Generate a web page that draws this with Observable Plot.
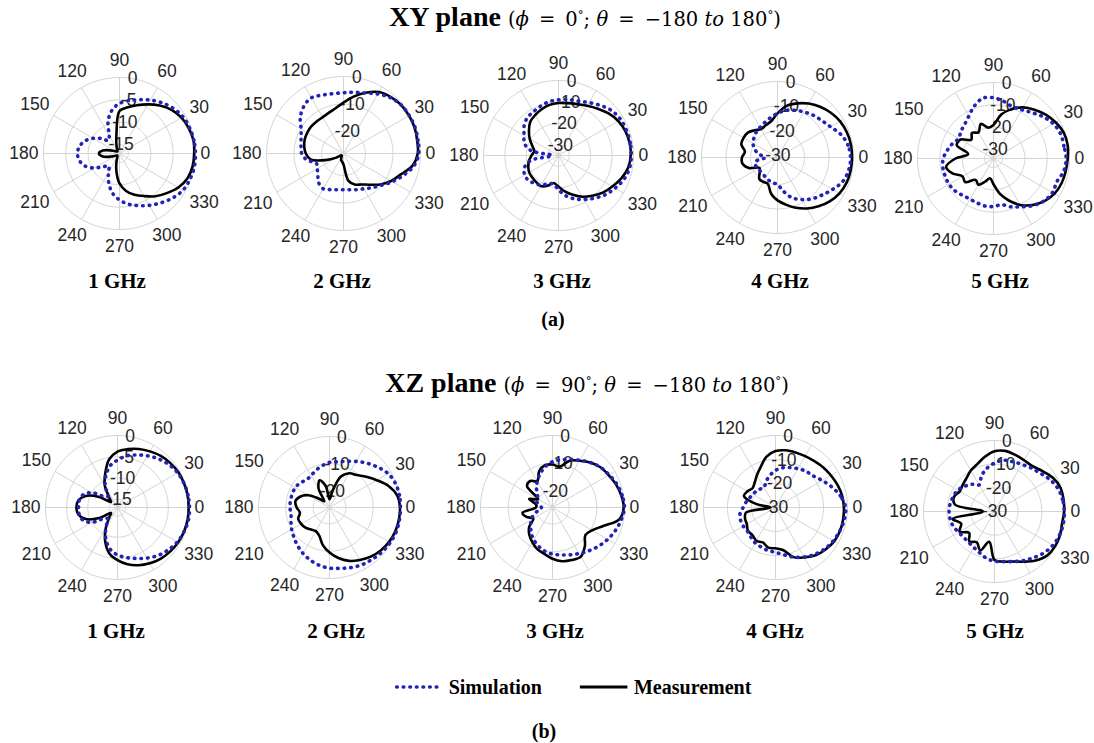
<!DOCTYPE html>
<html><head><meta charset="utf-8">
<script src="https://cdn.jsdelivr.net/npm/d3@7"></script>
<script src="https://cdn.jsdelivr.net/npm/@observablehq/plot@0.6"></script>
<style>
body{margin:0;background:#fff;}
#fig{position:relative;width:1094px;height:743px;overflow:hidden;font-family:"Liberation Serif","Times New Roman",serif;color:#000;}
.t{position:absolute;white-space:nowrap;transform:translate(-50%,-50%);line-height:1;}
.panel{position:absolute;}
.m{font-family:"DejaVu Serif",serif;font-weight:normal;font-size:19.5px;}
</style></head><body><div id="fig"></div>
<script>
// ---- data ----
const angles = [0,10,20,30,40,50,60,70,80,90,100,110,120,130,140,150,160,170,180,190,200,210,220,230,240,250,260,270,280,290,300,310,320,330,340,350];
const thetaTicks = [0,30,60,90,120,150,180,210,240,270,300,330];
const freqs = ["1 GHz","2 GHz","3 GHz","4 GHz","5 GHz"];
const xyRmin = [-17,-28,-35,-31,-34];
const xzRmin = [-17,-26,-26,-30,-30];
const xyTicks = [[0,-5,-10,-15],[0,-10,-20],[0,-10,-20,-30],[0,-10,-20,-30],[0,-10,-20,-30]];
const xzTicks = [[0,-5,-10,-15],[0,-10,-20],[0,-10,-20],[0,-10,-20,-30],[0,-10,-20,-30]];

const xy1Sim = [0,-0.1,-0.3,-0.6,-1.3,-2.2,-3.2,-4.2,-5.0,-5.8,-7.2,-9.5,-12.4,-13.2,-11.8,-10.2,-8.8,-7.9,-7.6,-7.9,-8.8,-10.5,-12.5,-13.3,-12.0,-10.0,-8.0,-6.6,-5.5,-4.6,-3.6,-2.6,-1.5,-0.6,-0.2,0];
const xy1Meas = [-0.3,-0.2,-0.5,-1.0,-1.8,-3.0,-4.3,-5.5,-6.5,-7.5,-13,-15,-16,-16.3,-16.3,-16,-15,-13.2,-12.4,-13.2,-15,-16,-16.3,-16.3,-16,-15,-13,-10.3,-8.5,-7.2,-6,-4.5,-3.2,-1.8,-0.8,-0.4];
const xy2Sim = [-0.6,-0.5,-0.3,-0.4,-0.6,-1.5,-3.0,-4.6,-5.4,-5.9,-5.9,-5.4,-4.6,-5.6,-7.5,-10.2,-11.6,-12.3,-12.8,-14.5,-17.5,-17,-15.8,-14,-13.2,-14,-14.6,-14.8,-14.6,-14,-13.2,-11.8,-10,-7.5,-4.8,-2.0];
const xy2Meas = [-1.0,-0.8,-0.5,-0.5,-0.6,-1.2,-2.2,-4.5,-7.0,-9.5,-11.3,-12.3,-12.8,-12.8,-12.7,-12.8,-13,-13.5,-14.3,-15.8,-21,-25,-27,-27,-26.5,-25.5,-25,-24,-18,-16,-15,-13.2,-10.5,-8,-5.8,-2.5];
const xy3Sim = [-1.0,-1.0,-1.2,-1.5,-2.5,-4.5,-6.5,-8.0,-8.5,-9.0,-9.5,-10.5,-11.5,-12.2,-14,-16.5,-18,-22,-32,-22,-18,-16.8,-16.8,-18,-19,-21,-21.5,-19,-16,-13.5,-11.3,-9,-6.5,-4.5,-2.5,-1.3];
const xy3Meas = [-1.3,-1.3,-1.8,-2.8,-4.5,-6.5,-8.2,-9.5,-10.2,-10.5,-11,-12,-13.2,-14.5,-17,-19.5,-22,-23.5,-22.4,-21,-20,-19.2,-19,-18.8,-18.5,-20,-22,-20.5,-18,-15.5,-12.8,-10.5,-8,-6,-3.8,-2];
const xy4Sim = [-1.2,-1.8,-3.5,-6,-7.5,-8.5,-9.5,-10.5,-11.5,-13,-14.5,-15.8,-16.8,-17.5,-18.5,-19.5,-21,-23.5,-26,-22,-21.5,-22,-22,-22,-21.5,-21,-20.5,-20,-17,-13.5,-11.2,-9,-7.2,-5,-2.6,-1.5];
const xy4Meas = [-0.6,-0.6,-0.9,-1.5,-2.6,-4,-5.6,-7.5,-9.6,-13,-16,-17,-17.6,-16.5,-15.2,-15,-15.3,-17.5,-16.5,-16.5,-18.5,-22.5,-21.5,-19.5,-19.5,-19.5,-16,-13.5,-11.5,-9.2,-7,-5,-3.2,-1.8,-1.0,-0.7];
const xy5Sim = [-1.5,-2,-2,-3,-5,-7.2,-8.8,-9.3,-8,-6.8,-6.6,-9,-12,-14,-15,-16,-14.5,-13,-11.5,-11,-11,-11,-11.5,-12.5,-13,-12.8,-12.4,-12.5,-13,-11,-9,-6.5,-4.5,-3.5,-3.8,-2];
const xy5Meas = [-0.8,-0.3,-0.5,-1.8,-3.5,-5.5,-7.6,-10.5,-14,-19,-20,-17.5,-20.5,-19,-21,-17,-16.5,-22.5,-17,-12.5,-14.5,-18,-17.5,-21.5,-20.5,-23,-25,-22.5,-18,-14,-10,-6.8,-4.3,-2.5,-1.6,-1.2];

const xz1Sim = [0,-0.1,-0.3,-0.6,-1.2,-2,-2.9,-3.8,-4.6,-5.8,-7,-9,-11.2,-13.5,-13,-10,-8.3,-7.8,-7.8,-7.8,-8.3,-10,-13,-13.5,-11.5,-9,-7,-5.8,-5,-4.2,-3.2,-2.2,-1.4,-0.7,-0.3,0];
const xz1Meas = [-0.2,-0.2,-0.3,-0.4,-0.7,-1.1,-1.7,-2.3,-3.0,-3.8,-5.5,-8.5,-11,-14,-15,-12,-9,-7.6,-7.3,-7.6,-9,-12,-15,-14,-11.5,-8.5,-6,-4.6,-3.4,-2.5,-1.8,-1.2,-0.8,-0.5,-0.3,-0.2];
const xz2Sim = [0,0,-0.3,-1.2,-3,-4.8,-6.5,-8,-9,-9.5,-10.5,-11.5,-12.5,-12.8,-12,-11.5,-11.5,-11.5,-11.5,-11.7,-11,-10,-9,-7.8,-6.6,-5.5,-4.5,-3.8,-3.4,-2.6,-1.9,-1.4,-0.8,-0.3,0,0];
const xz2Meas = [-0.2,-0.8,-3,-6,-8.5,-10.5,-11.5,-14,-20,-23,-18,-15.4,-18,-23,-21,-17,-14.5,-13.3,-14,-15,-13.8,-14,-14.5,-15.5,-16,-15,-12,-9.5,-7.2,-5.2,-3.8,-2.5,-1.5,-0.8,-0.4,-0.2];
const xz3Sim = [0,-0.5,-1.3,-2.4,-3.4,-4.8,-6.3,-7.5,-8.5,-9.5,-11,-13,-15,-17,-19,-19.5,-20,-21,-22,-21,-19,-17,-15.8,-14,-12.5,-11.2,-10,-9.2,-8.6,-7.8,-6.8,-5.6,-4.3,-3,-1.8,-0.8];
const xz3Meas = [-0.3,-0.8,-1.6,-2.6,-3.4,-4.8,-6.5,-8,-11,-10.5,-10.5,-12,-15,-13.5,-14,-20,-17,-20,-20,-15,-16,-18,-15,-13,-11.5,-10,-9,-7.5,-6.3,-5.8,-5.5,-7.8,-10.5,-9.5,-6.5,-1.5];
const xz4Sim = [-0.8,-2.5,-5,-7.5,-9.5,-10.3,-11.3,-12.3,-13.2,-14.5,-16.5,-18.5,-20.4,-20,-19.5,-19,-18.5,-17.5,-16.5,-15,-14.5,-14.5,-14.7,-14,-13,-12.5,-11.8,-11.3,-10,-8,-6.2,-4.5,-3.2,-2.2,-1.5,-0.9];
const xz4Meas = [-1.5,-1.8,-2.5,-3.3,-4,-4.8,-5.3,-5.6,-5.8,-6.5,-8.5,-12,-14.5,-16.5,-17.5,-16.5,-16,-22,-28,-17.5,-16.5,-16.2,-15,-15,-14,-14.5,-13,-13,-12,-8,-6,-4,-2.8,-1.8,-1.4,-1.4];
const xz5Sim = [-0.5,-0.8,-1.5,-3,-4.8,-6,-7,-7.6,-8,-9.5,-11.5,-14,-17,-15,-13.5,-12,-11.5,-11,-10.8,-11,-11.5,-12.5,-13,-13,-12.5,-11.5,-10,-9,-8.5,-7.5,-6,-4.5,-2.8,-1.5,-0.8,-0.5];
const xz5Meas = [-0.6,-0.4,-0.4,-1.5,-3.5,-5,-5,-4.5,-4,-4.5,-6.5,-8.7,-10,-11.6,-12.5,-13,-11.8,-13,-25,-12,-15,-13,-16,-13.5,-15,-12.5,-17,-9.5,-8.5,-7.5,-5.5,-3,-1,-0.5,-0.6,-1];

const xySim = [xy1Sim,xy2Sim,xy3Sim,xy4Sim,xy5Sim];
const xyMeas = [xy1Meas,xy2Meas,xy3Meas,xy4Meas,xy5Meas];
const xzSim = [xz1Sim,xz2Sim,xz3Sim,xz4Sim,xz5Sim];
const xzMeas = [xz1Meas,xz2Meas,xz3Meas,xz4Meas,xz5Meas];

// ---- layout ----
const row1 = {cx:[119,343,558,777,993], cy:[153,153,155,157,158], R:[76,77,75,76,76], labelX:[117,342,562,780,1000], labelY:281};
const row2 = {cx:[117,329,552,775,994], cy:[507,507,507,507,511], R:[72,71,72,72,71], labelX:[116,336,555,775,995], labelY:631};
const SIM = "#2222b8", MEAS = "#000000", GRID = "#d4d4d4", TXT = "#262626";
const FONT = "'Liberation Sans', Arial, sans-serif";
const DASH = "0.6,6";

const fig = document.getElementById("fig");
const rad = a => a * Math.PI / 180;

function panel(cx, cy, R, rmin, ticks, sim, meas) {
  const W = 270, H = 250;
  const rho = v => Math.max(0, (v - rmin) / (0 - rmin));
  const polar = vals => angles.map((a, i) => ({x: rho(vals[i]) * Math.cos(rad(a)), y: rho(vals[i]) * Math.sin(rad(a))}));
  const ringAngles = d3.range(0, 361, 2);
  const rings = ticks.flatMap(t => ringAngles.map(a => ({t, x: rho(t) * Math.cos(rad(a)), y: rho(t) * Math.sin(rad(a))})));
  const spokes = thetaTicks.map(a => ({x2: Math.cos(rad(a)), y2: Math.sin(rad(a))}));
  const thetaLabels = thetaTicks.map(a => {
    const s = String(a), w = s.length * 9.7, h = 24;
    const c = Math.abs(Math.cos(rad(a))), sn = Math.abs(Math.sin(rad(a)));
    const edge = Math.min(c > 1e-6 ? w / 2 / c : Infinity, sn > 1e-6 ? h / 2 / sn : Infinity);
    const d = (R + 5 + edge) / R;
    return {label: s, x: d * Math.cos(rad(a)), y: d * Math.sin(rad(a))};
  });
  const rLabels = ticks.map(t => ({label: String(t), x: rho(t) * Math.cos(rad(80)), y: rho(t) * Math.sin(rad(80))}));
  const p = Plot.plot({
    width: W, height: H, margin: 0,
    style: {background: "transparent", overflow: "visible", maxWidth: "none"},
    x: {domain: [-W / 2 / R, W / 2 / R], axis: null},
    y: {domain: [-H / 2 / R, H / 2 / R], axis: null},
    marks: [
      Plot.line(rings, {x: "x", y: "y", z: "t", stroke: GRID, strokeWidth: 1}),
      Plot.link(spokes, {x1: 0, y1: 0, x2: "x2", y2: "y2", stroke: GRID, strokeWidth: 1}),
      Plot.text(thetaLabels, {x: "x", y: "y", text: "label", fontSize: 17.5, fontFamily: FONT, fill: TXT, textAnchor: "middle", lineAnchor: "middle"}),
      Plot.text(rLabels, {x: "x", y: "y", text: "label", fontSize: 17.5, fontFamily: FONT, fill: TXT, textAnchor: "middle", lineAnchor: "middle"}),
      Plot.line(polar(meas), {x: "x", y: "y", curve: "catmull-rom-closed", stroke: MEAS, strokeWidth: 2.6, strokeLinejoin: "round"}),
      Plot.line(polar(sim), {x: "x", y: "y", curve: "catmull-rom-closed", stroke: SIM, strokeWidth: 3.6, strokeDasharray: DASH, strokeLinecap: "round"})
    ]
  });
  const div = document.createElement("div");
  div.className = "panel";
  div.style.left = (cx - W / 2) + "px";
  div.style.top = (cy - H / 2) + "px";
  div.appendChild(p);
  fig.appendChild(div);
}

function text(html, x, y, size, extra) {
  const d = document.createElement("div");
  d.className = "t";
  d.style.left = x + "px"; d.style.top = y + "px"; d.style.fontSize = size + "px";
  if (extra) d.style.cssText += extra;
  d.innerHTML = html;
  fig.appendChild(d);
}

for (let i = 0; i < 5; i++) {
  panel(row1.cx[i], row1.cy[i], row1.R[i], xyRmin[i], xyTicks[i], xySim[i], xyMeas[i]);
  panel(row2.cx[i], row2.cy[i], row2.R[i], xzRmin[i], xzTicks[i], xzSim[i], xzMeas[i]);
  text("<b>" + freqs[i] + "</b>", row1.labelX[i], row1.labelY, 21);
  text("<b>" + freqs[i] + "</b>", row2.labelX[i], row2.labelY, 21);
}

const mathPart = (phi) => ' <span class="m">(<i>ϕ</i>&thinsp; = &thinsp;' + phi + '<sup style="font-size:0.6em">°</sup>; <i>θ</i>&thinsp; = &thinsp;−180 <i>to</i> 180<sup style="font-size:0.6em">°</sup>)</span>';
text("<b>XY plane</b>" + mathPart("0"), 585, 17, 28);
text("<b>XZ plane</b>" + mathPart("90"), 587, 383, 28);
text("<b>(a)</b>", 553, 319, 20);
text("<b>(b)</b>", 544, 731, 20);

// legend
const leg = document.createElement("div");
leg.className = "t";
leg.style.cssText += "left:573px;top:687px;font-size:20px;display:flex;align-items:center;transform:translate(-50%,-50%);";
leg.innerHTML = '<svg width="48" height="10" style="margin-right:6px"><line x1="2" y1="5" x2="47" y2="5" stroke="' + SIM + '" stroke-width="3.6" stroke-linecap="round" stroke-dasharray="' + DASH + '"/></svg><b>Simulation</b>' +
  '<svg width="48" height="10" style="margin-left:38px;margin-right:6px"><line x1="0" y1="5" x2="48" y2="5" stroke="#000" stroke-width="3"/></svg><b>Measurement</b>';
fig.appendChild(leg);
</script>
</body></html>
